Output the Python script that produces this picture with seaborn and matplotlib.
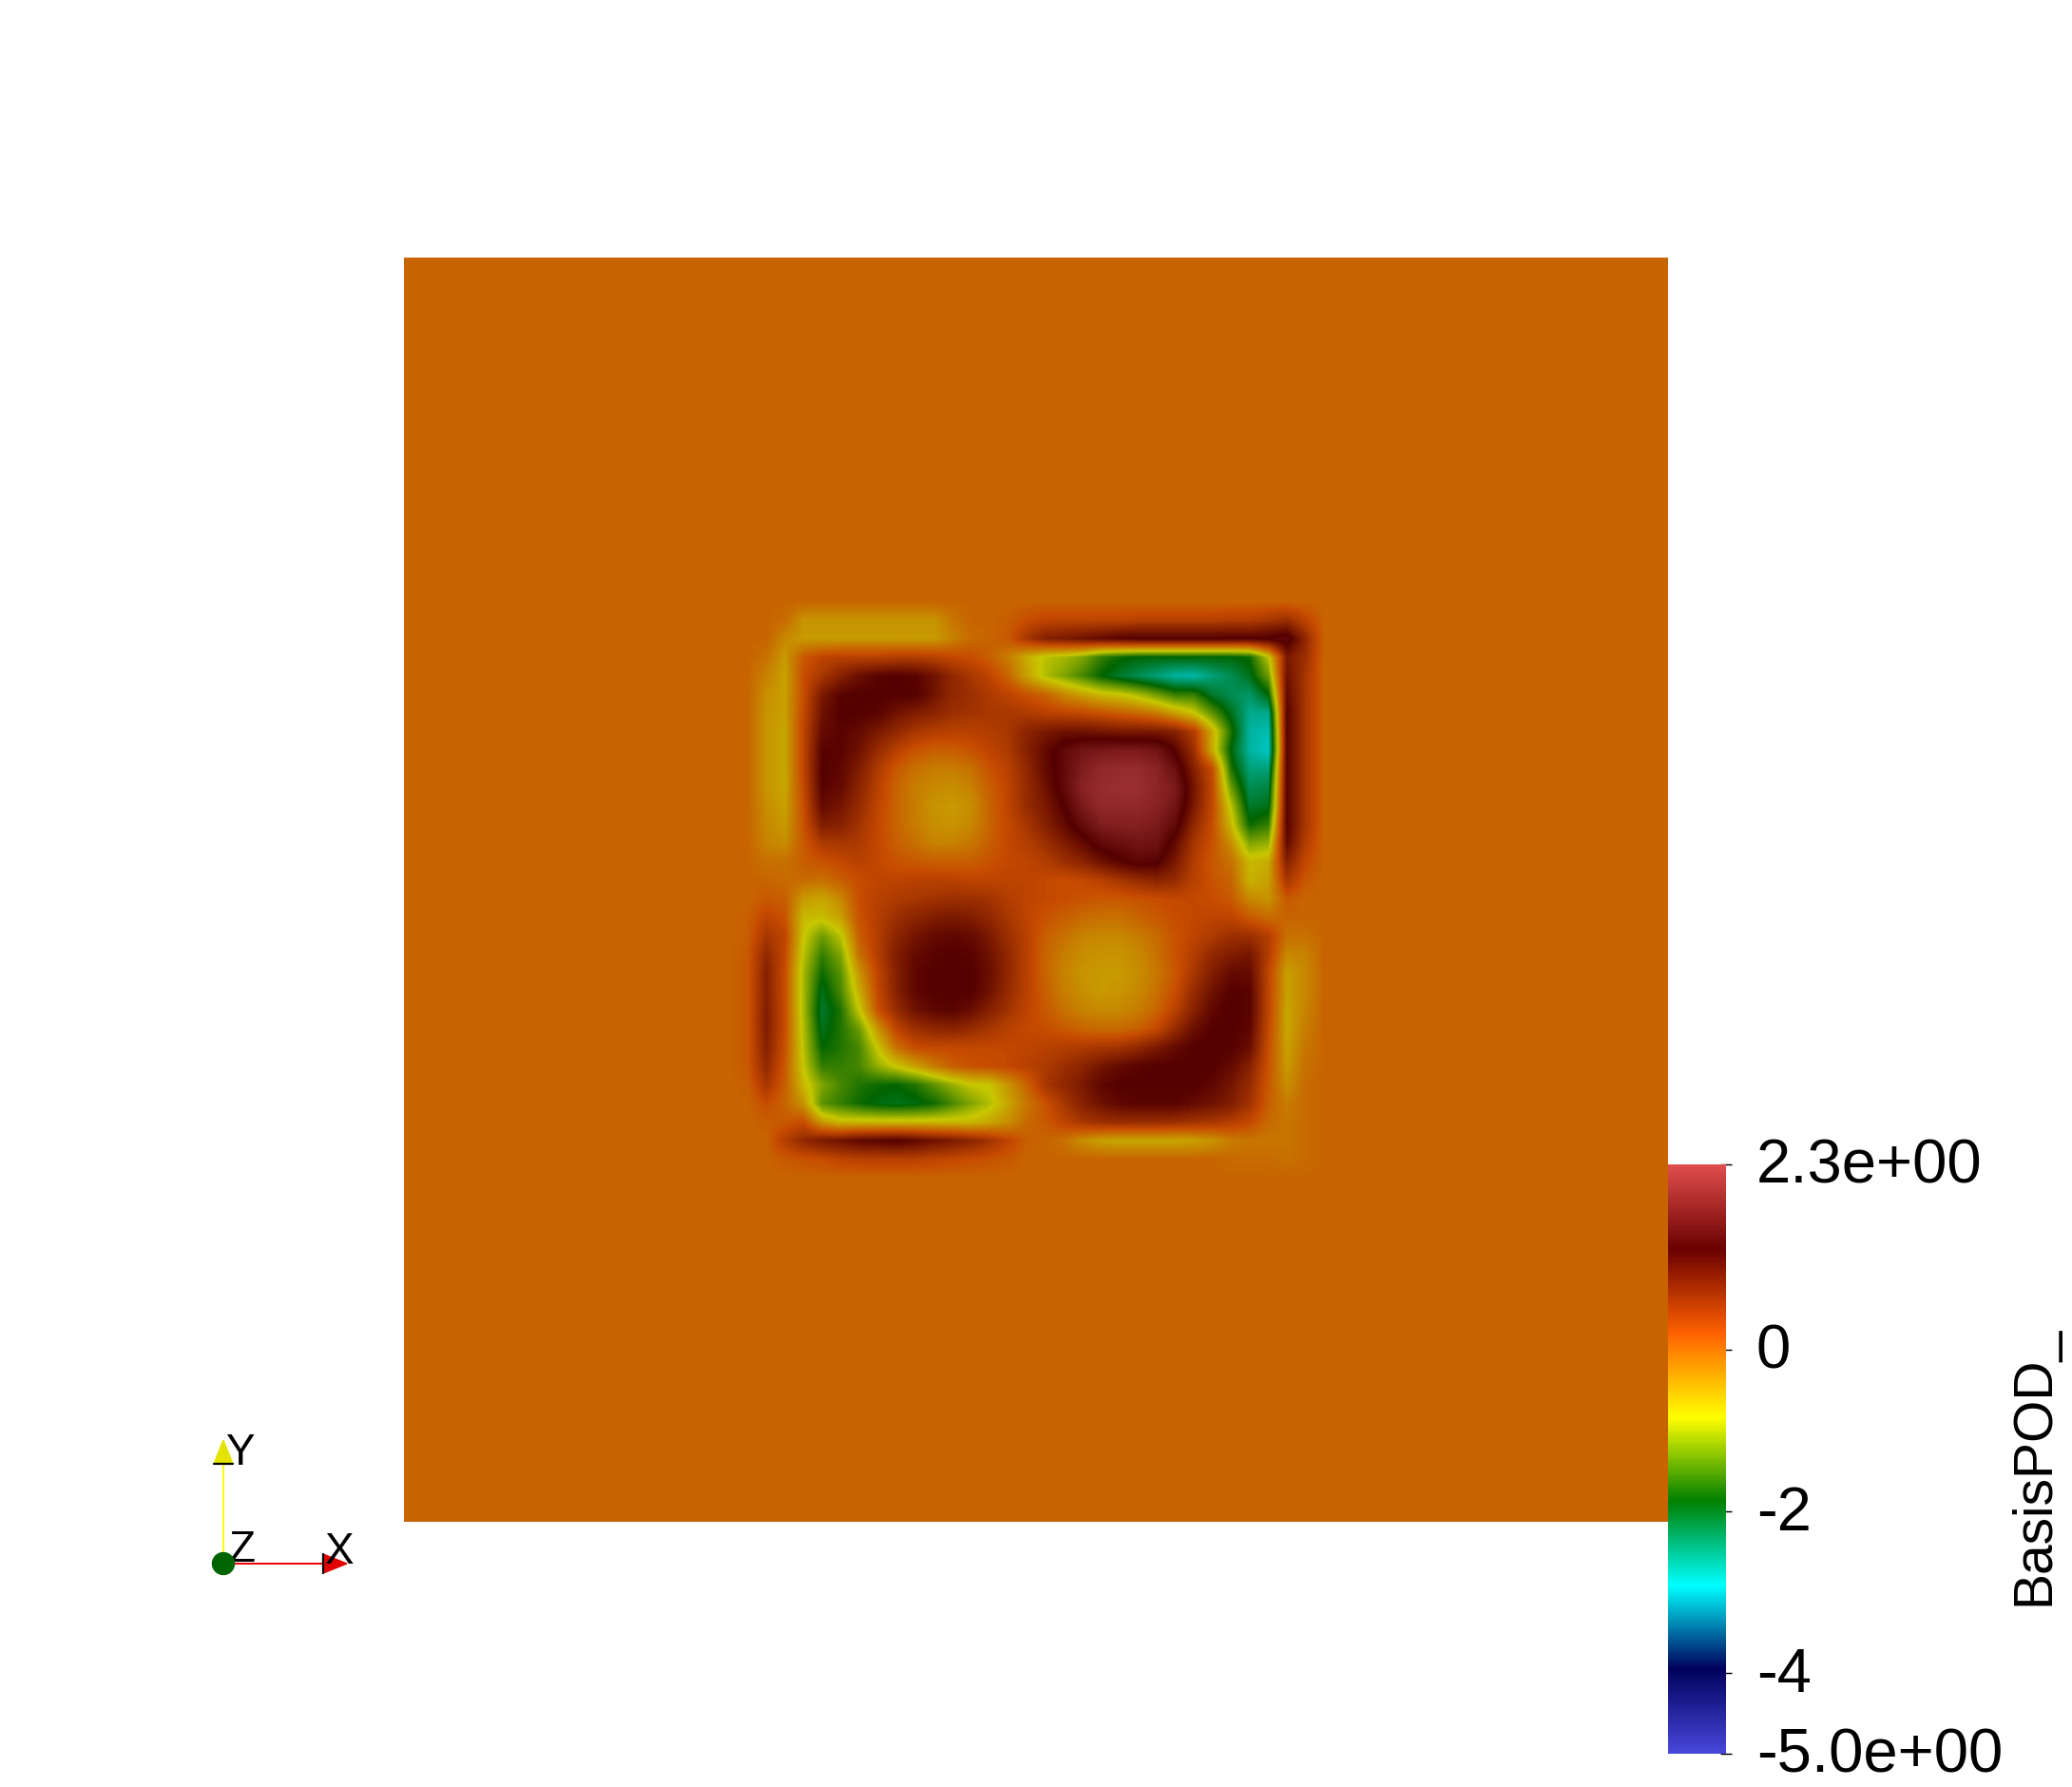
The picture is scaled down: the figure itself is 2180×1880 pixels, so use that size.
import numpy as np
import matplotlib
matplotlib.use('Agg')
import matplotlib.pyplot as plt
from matplotlib.colors import LinearSegmentedColormap
from matplotlib.patches import Circle, Polygon
from matplotlib.transforms import ScaledTranslation
import seaborn as sns

basis_pod = [
    [0,  0,0,0,0,0,0,0,0,0,0,  0,0,0,0,0,0,0,0,0,0,  0,0,0,0,0,0,0,0,0,0,  0],
    [0,  0,-.05,-.4,-.4,-.4,-.4,-.4,-.4,-.4,-.4,  -.15,0,0,.05,.2,.3,.3,.3,.3,.3,  .35,.35,.35,.35,.35,.4,.4,.5,.6,.3,  0],
    [0,  0,-.3,-.45,-.45,-.45,-.45,-.45,-.45,-.45,-.45,  -.25,-.05,0,.1,.5,.8,.9,1,1.1,1.2,  1.25,1.25,1.25,1.25,1.25,1.25,1.25,1.3,1.4,.7,  0],
    [0,  -.1,-.45,.1,.3,.35,.35,.35,.4,.4,.35,  .25,.2,.05,-.2,-.6,-.9,-1,-1.2,-1.6,-1.8,  -1.9,-1.9,-1.9,-1.9,-1.9,-1.9,-1.8,-.9,.9,.6,  0],
    [0,  -.25,-.5,.2,.5,.8,1.05,1.2,1.25,1.2,1,  .7,.5,.3,0,-.5,-.95,-1.2,-1.5,-1.85,-2.1,  -2.3,-2.5,-2.7,-2.75,-2.5,-2.3,-2,-1.3,1,.5,  0],
    [0,  -.35,-.5,.2,.9,1.2,1.25,1.26,1.25,1.25,1,  .7,.6,.45,.3,.15,0,-.3,-.5,-.7,-.8,  -1,-1.3,-1.6,-1.6,-2.1,-2.3,-2.4,-1.9,1.1,.5,  0],
    [0,  -.4,-.5,.25,1,1.25,1.25,1.2,1,.85,.75,  .6,.55,.5,.5,.45,.35,.3,.25,.15,.05,  -.05,-.2,-.5,-.8,-1.4,-2,-2.6,-2.6,1.2,.5,  0],
    [0,  -.4,-.55,.3,1.1,1.2,1.1,.9,.7,.5,.4,  .35,.35,.4,.5,.75,.9,1,1,.95,.9,  .9,.9,.8,.4,-.6,-1.7,-2.7,-2.8,1.2,.5,  0],
    [0,  -.4,-.55,.3,1.2,1.2,1,.65,.35,.15,.05,  .05,.15,.3,.45,.8,1.1,1.4,1.6,1.65,1.7,  1.7,1.6,1.2,.6,-.6,-1.9,-2.7,-2.9,1.2,.5,  0],
    [0,  -.4,-.55,.3,1.25,1.15,.85,.45,.1,-.1,-.2,  -.2,-.1,.15,.35,.7,1.1,1.4,1.75,1.95,2,  2,1.85,1.5,.8,.2,-1.7,-2.5,-2.5,1.2,.5,  0],
    [0,  -.4,-.55,.25,1.2,1.1,.75,.35,0,-.2,-.3,  -.35,-.25,.05,.3,.65,1,1.4,1.85,2,2.05,  2.05,1.9,1.7,.95,.25,-1.3,-2.3,-2.2,1.2,.5,  0],
    [0,  -.35,-.5,.2,1.1,.95,.65,.3,0,-.2,-.4,  -.45,-.35,0,.3,.65,.9,1.25,1.7,1.95,1.95,  1.95,1.85,1.6,.9,.25,-.9,-2.1,-2,1.2,.5,  0],
    [0,  -.3,-.45,.15,.85,.8,.55,.25,0,-.2,-.35,  -.4,-.3,0,.25,.5,.8,1.1,1.45,1.75,1.8,  1.8,1.7,1.4,.7,.2,-.7,-1.8,-1.6,1.2,.5,  0],
    [0,  -.25,-.35,.1,.45,.5,.45,.25,.05,-.1,-.25,  -.25,-.15,.05,.25,.4,.6,.85,1.1,1.4,1.5,  1.6,1.55,1.1,.5,.15,-.35,-1.2,-1.1,1.1,.4,  0],
    [0,  -.1,-.1,.05,.15,.25,.35,.25,.15,.1,.05,  .05,.05,.15,.25,.3,.4,.6,.75,1,1.2,  1.35,1.3,.9,.4,.1,-.1,-.7,-.6,.8,.25,  0],
    [0,  0,-.05,-.05,-.1,.05,.2,.3,.3,.35,.35,  .35,.3,.3,.3,.3,.25,.2,.25,.35,.5,  .65,.75,.65,.35,.15,0,-.65,-.5,.5,.1,  0],
    [0,  .1,.05,-.45,-.55,-.3,.2,.35,.45,.5,.55,  .6,.6,.55,.4,.3,.25,.2,.15,.1,.1,  .15,.2,.25,.25,.2,.1,-.3,-.4,.1,0,  0],
    [.05,  .3,.15,-.7,-.75,-.5,.15,.4,.6,.75,.85,  .9,.85,.7,.5,.3,.15,.05,-.05,-.1,-.1,  0,.1,.2,.25,.3,.3,.1,-.05,0,0,  0],
    [.05,  .5,.3,-.8,-1.3,-.9,.05,.4,.75,.95,1.1,  1.15,1.1,.9,.6,.35,.05,-.1,-.25,-.3,-.3,  -.2,-.05,.15,.3,.45,.6,.6,.4,-.1,-.1,  0],
    [.1,  .7,.25,-.9,-1.6,-1.2,-.1,.4,.85,1.1,1.2,  1.25,1.2,1,.7,.35,0,-.2,-.35,-.4,-.4,  -.3,-.1,.15,.4,.7,.85,.95,.4,-.3,-.25,  0],
    [.1,  .8,.2,-1,-1.8,-1.4,-.4,.3,.8,1.15,1.25,  1.26,1.25,1.05,.7,.35,0,-.25,-.4,-.45,-.45,  -.35,-.15,.1,.5,.85,1.1,1.1,.3,-.5,-.3,  0],
    [.1,  .8,.2,-1,-2,-1.5,-.6,.25,.8,1.15,1.25,  1.26,1.25,1,.65,.35,.05,-.2,-.35,-.45,-.4,  -.3,-.1,.2,.65,1,1.25,1.2,.3,-.5,-.3,  0],
    [.1,  .85,.2,-1,-2.1,-1.7,-.85,.15,.65,1,1.15,  1.2,1.05,.8,.55,.3,.1,-.1,-.25,-.3,-.3,  -.2,0,.35,.8,1.15,1.26,1.2,.3,-.55,-.25,  0],
    [.1,  .85,.2,-.95,-2,-1.7,-1.3,-.4,.3,.6,.7,  .75,.65,.5,.35,.25,.2,.1,0,-.05,-.05,  .05,.25,.65,1.05,1.25,1.26,1.15,.25,-.55,-.2,  0],
    [.1,  .8,.15,-.9,-1.85,-1.7,-1.5,-.8,-.1,.2,.25,  .25,.25,.25,.25,.3,.35,.4,.45,.5,.55,  .7,.9,1.1,1.25,1.26,1.25,1.05,.2,-.5,-.15,  0],
    [.1,  .7,.1,-.85,-1.6,-1.6,-1.5,-1.1,-.8,-.5,-.2,  .05,.15,.2,.25,.35,.45,.6,.75,.95,1.1,  1.2,1.25,1.26,1.26,1.25,1.1,.8,.15,-.45,-.1,  0],
    [.05,  .5,.05,-.7,-1.2,-1.5,-1.7,-1.8,-1.85,-1.7,-1.4,  -1.1,-.85,-.8,-.4,0,.5,.7,.9,1.15,1.25,  1.26,1.26,1.26,1.26,1.15,.95,.65,.1,-.35,-.05,  0],
    [0,  .2,0,-.4,-1.4,-1.6,-1.8,-1.95,-2,-1.95,-1.8,  -1.5,-1.2,-.95,-.55,-.15,.15,.5,.8,1,1.15,  1.2,1.2,1.2,1.1,1,.85,.55,.05,-.2,-.05,  0],
    [0,  .05,.1,.2,-.45,-.7,-.7,-.7,-.7,-.7,-.7,  -.7,-.7,-.55,-.35,-.05,.1,.3,.5,.6,.65,  .65,.65,.6,.55,.5,.4,.25,-.05,-.15,-.05,  0],
    [0,  0,.4,.7,.9,1,1.15,1.2,1.25,1.15,1,  .9,.75,.55,.3,.05,0,-.1,-.35,-.5,-.55,  -.55,-.55,-.55,-.5,-.4,-.2,-.15,-.15,-.15,-.05,  0],
    [0,  0,.1,.15,.2,.3,.35,.35,.35,.35,.3,  .25,.2,.15,.1,0,0,0,0,0,0,  0,0,0,0,0,-.05,-.05,-.05,-.1,-.05,  0],
    [0,  0,0,0,0,0,0,0,0,0,0,  0,0,0,0,0,0,0,0,0,0,  0,0,0,0,0,0,0,0,0,0,  0],
]
pad_cells = 18
vmin = -5.0
vmax = 2.3
tick_values = [2.3, 0, -2, -4, -5]
tick_labels = ['2.3e+00', '0', '-2', '-4', '-5.0e+00']
scalar_name = 'BasisPOD_'

# rainbow desaturated
cmap_pos = [0, .143, .285, .429, .571, .714, .857, 1]
cmap_rgb = [(.278, .278, .858), (0, 0, .36), (0, 1, 1), (0, .5, 0),
            (1, 1, 0), (1, .38, 0), (.42, 0, 0), (.878, .301, .301)]
surface_light = 0.784

W, H = 2180, 1880


def px_axes(fig, x0, y0, x1, y1):
    # axes box given in image pixels, y going down
    return fig.add_axes([x0 / W, 1 - y1 / H, (x1 - x0) / W, (y1 - y0) / H])


sns.set_theme(style='white')
plt.rcParams['font.family'] = ['Liberation Sans', 'DejaVu Sans']

bar_cmap = LinearSegmentedColormap.from_list('bar', list(zip(cmap_pos, cmap_rgb)), N=256)
lit_rgb = [tuple(c * surface_light for c in rgb) for rgb in cmap_rgb]
lit_cmap = LinearSegmentedColormap.from_list('lit', list(zip(cmap_pos, lit_rgb)), N=256)

field = np.pad(np.array(basis_pod, dtype=float), pad_cells, constant_values=0.0)

fig = plt.figure(figsize=(W / 100, H / 100), dpi=100, facecolor='white')
ax = px_axes(fig, 425, 271, 1755, 1601)
cax = px_axes(fig, 1755, 1225, 1816, 1845)

sns.heatmap(field, ax=ax, cmap=bar_cmap, vmin=vmin, vmax=vmax, cbar_ax=cax,
            xticklabels=False, yticklabels=False, cbar_kws={'ticks': tick_values})

# smooth the read values in data space, so the colour bands come out like the surface
n = field.shape[0]
ax.imshow(field, cmap=lit_cmap, vmin=vmin, vmax=vmax, extent=(0, n, n, 0),
          interpolation='bilinear', interpolation_stage='data', aspect='auto', zorder=3)
ax.set_xlim(0, n)
ax.set_ylim(n, 0)

cbar = ax.collections[0].colorbar
cbar.outline.set_visible(False)
cbar.set_ticks(tick_values, labels=tick_labels)
cax.yaxis.set_ticks_position('right')
cax.tick_params(axis='y', right=True, left=False, direction='inout', length=9, width=1,
                color='black', labelsize=47, labelcolor='black', pad=18.5)
lift = ScaledTranslation(0, 4 / 100, fig.dpi_scale_trans)
for tick_label in cax.get_yticklabels():
    tick_label.set_transform(tick_label.get_transform() + lift)

fig.text(2140 / W, 1 - 1689 / H, scalar_name, rotation=90, fontsize=41, color='black',
         ha='center', va='bottom')

# orientation triad, in image pixels
tri = fig.add_axes([0, 0, 1, 1], facecolor='none')
tri.set_xlim(0, W)
tri.set_ylim(H, 0)
tri.axis('off')
ox, oy = 235, 1645
tri.plot([ox, ox], [oy, 1540], color='#FFFF00', lw=1.4)
tri.plot([ox, 340], [oy, oy], color='#EE0000', lw=1.4)
tri.add_patch(Polygon([(ox - 10, 1540), (ox + 10, 1540), (ox, 1515)], color='#E4E400'))
tri.plot([ox - 10, ox + 10], [1540, 1540], color='black', lw=1.6)
tri.add_patch(Polygon([(340, oy - 10), (340, oy + 10), (365, oy)], color='#E00000'))
tri.plot([340, 340], [oy - 10, oy + 10], color='black', lw=1.6)
for label, tx, ty in [('Y', 252, 1529), ('Z', 254, 1631), ('X', 357, 1633)]:
    tri.text(tx, ty, label, fontsize=33, color='black', ha='center', va='center')
tri.add_patch(Circle((ox, oy), 11.5, color='#006400', zorder=5))

plt.savefig('out.png', dpi=100)
